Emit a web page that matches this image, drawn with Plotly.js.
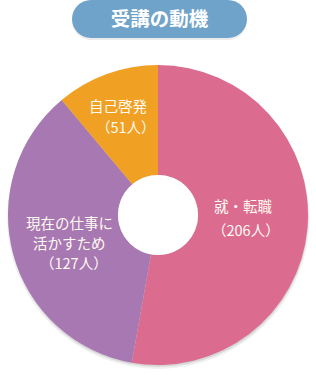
<!DOCTYPE html>
<html><head><meta charset="utf-8">
<script src="https://cdn.plot.ly/plotly-3.0.1.min.js"></script>
<style>html,body{margin:0;padding:0;background:#fff;}#c{width:316px;height:375px;}</style>
</head><body><div id="c"></div>
<script>
// categories and the counts printed on the chart
const categories = ["就・転職", "現在の仕事に<br>活かすため", "自己啓発"];
const counts = [206, 127, 51];
// slice shares (%) as drawn in the reference picture
const sliceShares = [52.8, 36.1, 11.1];
const colors = ["#dc6b90", "#a878b2", "#f0a023"];
const countSuffix = "人";
const chartTitle = "受講の動機";

const W = 316, H = 375;
const px = x => x / W, py = y => 1 - y / H;

// pie geometry in pixels
const cx = 158, cy = 215, R = 150, HOLE = 0.267;
// label block centres (px), line spacing, and x nudge of the count line
const labelPos = [[243, 217.5], [69.5, 242], [118.5, 116]];
const lineGap = [25, 20, 21.5];
const countNudge = [3, 4, 7];
const FS = 14.5;

function pill(x0, x1, y0, y1) {
  const r = (y1 - y0) / 2, k = 0.5523 * r;
  const P = (x, y) => px(x) + "," + py(y);
  return "M" + P(x0 + r, y0) + " L" + P(x1 - r, y0) +
    " C" + P(x1 - r + k, y0) + " " + P(x1, y0 + r - k) + " " + P(x1, y0 + r) +
    " C" + P(x1, y0 + r + k) + " " + P(x1 - r + k, y1) + " " + P(x1 - r, y1) +
    " L" + P(x0 + r, y1) +
    " C" + P(x0 + r - k, y1) + " " + P(x0, y0 + r + k) + " " + P(x0, y0 + r) +
    " C" + P(x0, y0 + r - k) + " " + P(x0 + r - k, y0) + " " + P(x0 + r, y0) + " Z";
}

const shapes = [
  {type: "path", xref: "paper", yref: "paper", path: pill(72, 247, 1, 40), fillcolor: "rgba(0,0,0,0.08)", line: {width: 0}, layer: "below"},
  {type: "path", xref: "paper", yref: "paper", path: pill(72, 247, 0, 38), fillcolor: "#6fa3c9", line: {width: 0}, layer: "below"},
  {type: "circle", xref: "paper", yref: "paper", x0: px(cx - R - 1), x1: px(cx + R + 1.5), y0: py(cy + R + 4), y1: py(cy - R + 2), fillcolor: "rgba(0,0,0,0.06)", line: {width: 0}, layer: "below"},
  {type: "circle", xref: "paper", yref: "paper", x0: px(cx - R), x1: px(cx + R + 0.5), y0: py(cy + R + 2), y1: py(cy - R + 1), fillcolor: "rgba(0,0,0,0.10)", line: {width: 0}, layer: "below"},
  {type: "circle", xref: "paper", yref: "paper", x0: px(cx - R * HOLE), x1: px(cx + R * HOLE), y0: py(cy + R * HOLE), y1: py(cy - R * HOLE), fillcolor: "#ffffff", line: {width: 0}, layer: "above"}
];

const annotations = [];
counts.forEach((v, i) => {
  const lines = categories[i].split("<br>").concat(["（" + v + countSuffix + "）"]);
  const n = lines.length;
  lines.forEach((t, j) => {
    const yy = labelPos[i][1] + (j - (n - 1) / 2) * lineGap[i];
    const xx = labelPos[i][0] + (j === n - 1 ? countNudge[i] : 0);
    annotations.push({
      xref: "paper", yref: "paper", x: px(xx), y: py(yy), xanchor: "center", yanchor: "middle",
      text: t, showarrow: false,
      font: {family: "Noto Sans CJK JP", size: FS, color: "#fffaf0"}
    });
  });
});

const data = [{
  type: "pie",
  labels: categories,
  values: sliceShares,
  customdata: counts,
  sort: false,
  direction: "clockwise",
  rotation: 0,
  hole: HOLE,
  marker: {colors: colors, line: {width: 0}},
  textinfo: "none",
  domain: {x: [px(cx - R), px(cx + R)], y: [py(cy + R), py(cy - R)]},
  showlegend: false,
  hoverinfo: "none"
}];

const layout = {
  width: W, height: H,
  margin: {l: 0, r: 0, t: 0, b: 0},
  paper_bgcolor: "#ffffff",
  plot_bgcolor: "#ffffff",
  showlegend: false,
  title: {text: "<b>" + chartTitle + "</b>", x: px(159.5), xanchor: "center", y: py(19), yanchor: "middle", yref: "container",
          font: {family: "Noto Sans CJK JP", size: 19.5, color: "#ffffff"}},
  shapes: shapes,
  annotations: annotations
};

Plotly.newPlot("c", data, layout, {displayModeBar: false, staticPlot: true});
</script>
</body></html>
